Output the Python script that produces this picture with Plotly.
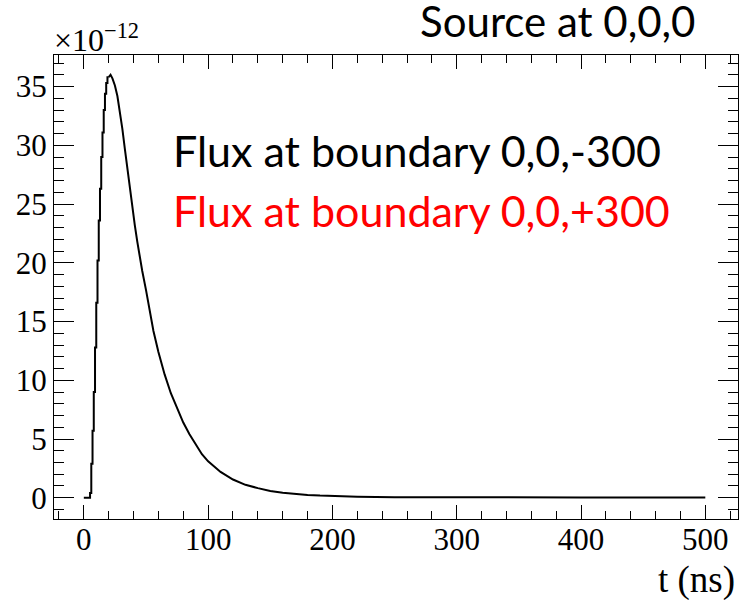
import plotly.graph_objects as go

# Rising part: 1-ns histogram bins (left edges) and contents (x1e-12)
rise_t = [0, 1, 2, 3, 4, 5, 6, 7, 8, 9, 10, 11, 12, 13, 14, 15, 16, 17, 18, 19, 20]
rise_v = [0, 0, 0, 0, 0, 0.4, 2.9, 5.7, 9.0, 12.8, 16.6, 20.2, 23.6, 26.3, 29.0, 31.1, 33.0, 34.4, 35.3, 35.8, 35.8]

# Peak and decaying tail
tail_t = [20, 21.5, 23, 25, 27, 29, 31, 33, 35, 37, 39, 41, 43, 45, 47, 50, 53, 56, 60, 65, 70, 75, 80, 85, 90,
          95, 100, 110, 120, 130, 140, 150, 160, 170, 180, 190, 200, 220, 250, 300, 400, 500]
tail_v = [35.8, 36.0, 35.7, 35.1, 34.2, 32.9, 31.4, 29.7, 28.0, 26.3, 24.7, 23.2, 21.8, 20.5, 19.3, 17.7, 16.1,
          14.2, 12.4, 10.5, 8.9, 7.6, 6.4, 5.4, 4.5, 3.7, 3.1, 2.2, 1.55, 1.1, 0.82, 0.58, 0.43, 0.32, 0.24,
          0.18, 0.14, 0.09, 0.05, 0.03, 0.02, 0.02]

x_ticks = [0, 100, 200, 300, 400, 500]
y_ticks = [0, 5, 10, 15, 20, 25, 30, 35]

W, H = 744, 600
L, R, T, B = 54, 6, 55, 81
pw, ph = W - L - R, H - T - B

def px(x):
    return (x - L) / pw

def py(y):
    return (H - B - y) / ph

fig = go.Figure()
fig.add_trace(go.Scatter(x=rise_t, y=rise_v, mode="lines", line=dict(color="black", width=2, shape="hv"),
                         showlegend=False, hoverinfo="skip"))
fig.add_trace(go.Scatter(x=tail_t, y=tail_v, mode="lines", line=dict(color="black", width=2),
                         showlegend=False, hoverinfo="skip"))

serif = "Liberation Serif"
sans = "Lato"
tickfont = dict(family=serif, size=31, color="black")

axis_common = dict(showline=True, linecolor="black", linewidth=1, mirror="allticks", ticks="inside",
                   tickcolor="black", tickwidth=1, showgrid=False, zeroline=False, tickfont=tickfont)

fig.update_xaxes(range=[-24, 526.3], tickmode="array", tickvals=x_ticks, ticktext=[str(v) for v in x_ticks],
                 ticklen=14, ticklabelstandoff=-7,
                 minor=dict(dtick=20, tick0=0, ticklen=8, ticks="inside", tickcolor="black", tickwidth=1),
                 **axis_common)
fig.update_yaxes(range=[-1.81, 37.69], tickmode="array", tickvals=y_ticks, ticktext=[str(v) for v in y_ticks],
                 ticklen=20,
                 minor=dict(dtick=1, tick0=0, ticklen=10, ticks="inside", tickcolor="black", tickwidth=1),
                 **axis_common)

annotations = [
    dict(text="×10<sup>−12</sup>", x=px(52), y=py(60), xref="paper", yref="paper", xanchor="left",
         yanchor="bottom", showarrow=False, font=dict(family=serif, size=32, color="black")),
    dict(text="t (ns)", x=px(737), y=py(603), xref="paper", yref="paper", xanchor="right",
         yanchor="bottom", showarrow=False, font=dict(family=serif, size=37, color="black")),
    dict(text="Source at 0,0,0", x=px(418), y=py(48), xref="paper", yref="paper", xanchor="left",
         yanchor="bottom", showarrow=False, font=dict(family=sans, size=42, color="black")),
    dict(text="Flux at boundary 0,0,-300", x=px(171), y=py(178), xref="paper", yref="paper",
         xanchor="left", yanchor="bottom", showarrow=False, font=dict(family=sans, size=43, color="black")),
    dict(text="Flux at boundary 0,0,+300", x=px(171), y=py(238), xref="paper", yref="paper",
         xanchor="left", yanchor="bottom", showarrow=False, font=dict(family=sans, size=43, color="#ff0000")),
]

fig.update_layout(width=W, height=H, margin=dict(l=L, r=R, t=T, b=B), plot_bgcolor="white",
                  paper_bgcolor="white", annotations=annotations, showlegend=False,
                  font=dict(family=serif, size=31, color="black"))

fig.write_html("out.html")
